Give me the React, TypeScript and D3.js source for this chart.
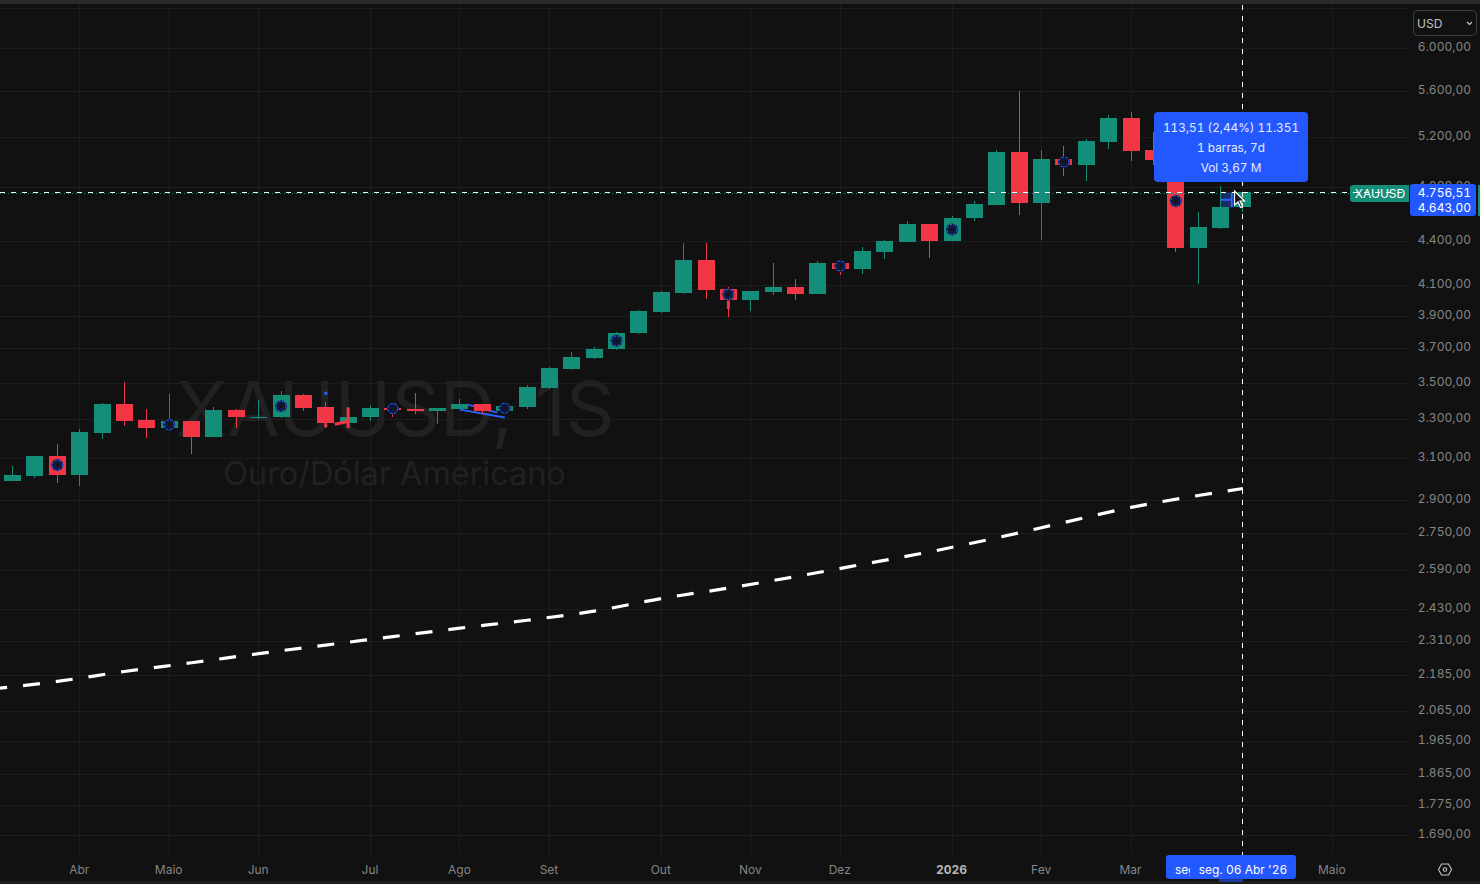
import * as d3 from 'd3';

const WIDTH = 1480;
const HEIGHT = 884;

// weekly candles, first one is 17 Mar 2025
const opens = [2986, 3014, 3113, 3019, 3230, 3384, 3294, 3253, 3289, 3209, 3352, 3310, 3310, 3433, 3368, 3279, 3310, 3363, 3358, 3342, 3358, 3384, 3347, 3368, 3472, 3580, 3644, 3697, 3793, 3923, 4045, 4266, 4071, 4000, 4052, 4084, 4039, 4245, 4204, 4321, 4391, 4520, 4398, 4564, 4660, 5076, 4675, 5019, 4970, 5158, 5361, 5092, 5059, 4349, 4491, 4643];
const closes = [3019, 3113, 3019, 3235, 3384, 3289, 3253, 3289, 3209, 3352, 3310, 3315, 3433, 3363, 3279, 3315, 3363, 3352, 3342, 3363, 3384, 3347, 3373, 3478, 3586, 3650, 3697, 3793, 3930, 4052, 4266, 4065, 4000, 4058, 4084, 4039, 4245, 4204, 4328, 4398, 4520, 4398, 4564, 4668, 5076, 4675, 5019, 4970, 5166, 5361, 5084, 5011, 4349, 4498, 4646, 4756.51];
const highs = [3063, 3113, 3173, 3250, 3390, 3506, 3358, 3439, 3289, 3368, 3358, 3406, 3456, 3439, 3395, 3368, 3379, 3363, 3444, 3363, 3411, 3384, 3384, 3489, 3592, 3679, 3709, 3799, 3936, 4058, 4384, 4384, 4084, 4058, 4245, 4137, 4259, 4245, 4356, 4405, 4542, 4520, 4579, 4690, 5092, 5599, 5092, 5125, 5183, 5390, 5412, 5242, 5070, 4608, 4805, 4760];
const lows = [2986, 3005, 2977, 2963, 3199, 3263, 3204, 3253, 3123, 3209, 3253, 3300, 3305, 3342, 3253, 3253, 3289, 3315, 3326, 3274, 3358, 3326, 3342, 3358, 3467, 3574, 3638, 3691, 3787, 3917, 4039, 4006, 3892, 3930, 4032, 4000, 4039, 4164, 4171, 4273, 4391, 4280, 4398, 4542, 4660, 4586, 4405, 4884, 4844, 5100, 5003, 4970, 4321, 4104, 4484, 4608];

// long moving average, read every third week
const maWeeks = [-1, 2, 5, 8, 11, 14, 17, 20, 23, 26, 29, 32, 35, 38, 41, 44, 47, 50, 53, 55];
const maValues = [2137, 2164, 2199, 2230, 2263, 2294.5, 2326, 2358, 2388, 2423.5, 2473, 2515, 2562, 2613, 2666, 2727, 2795, 2864, 2919, 2952];

const markerWeeks = [2, 7, 12, 17, 22, 27, 32, 37, 42, 47, 52];

// 6.400,00 sits under the USD box, only its grid line shows
const gridPrices = [6400, 6000, 5600, 5200, 4800, 4400, 4100, 3900, 3700, 3500, 3300, 3100, 2900, 2750, 2590, 2430, 2310, 2185, 2065, 1965, 1865, 1775, 1690];
const labelPrices = gridPrices.slice(1);
// April 2026 has no label of its own, the date box covers it
const monthLabels = ['Abr', 'Maio', 'Jun', 'Jul', 'Ago', 'Set', 'Out', 'Nov', 'Dez', '2026', 'Fev', 'Mar', '', 'Maio'];
const monthWeeks = [3, 7, 11, 16, 20, 24, 29, 33, 37, 42, 46, 50, 55, 59];

// hand drawn bits on the chart: week, price, week, price
const blueTrends = [
  [20, 3352, 22, 3310],
  [20.35, 3379, 21.67, 3336],
];
const redStrokes = [
  [14, 3279, 14, 3258],
  [14.4, 3274, 15, 3289],
  [15, 3363, 15, 3253],
  [32, 4000, 32, 3942],
];

const lastClose = 4756.51;
const measureFrom = 4643;
const measureWeeks = [54, 55];
const tooltipLines = ['113,51 (2,44%) 11.351', '1 barras, 7d', 'Vol 3,67 M'];

const BG = '#111111';
const GRID = '#1d1d1d';
const UP = '#148e78';
const DOWN = '#f23645';
const BLUE = '#2458ff';
const AXIS_TEXT = '#858585';
const FONT = 'Inter, sans-serif';

const x = d3.scaleLinear().domain([0, 55]).range([12.6, 1242.9]);
const y = d3.scaleLog().domain([1690, 6000]).range([835, 48]);

const ptBR = d3.formatLocale({ decimal: ',', thousands: '.', grouping: [3], currency: ['', ''] });
const fmtPrice = ptBR.format(',.2f');

const maLine = d3
  .line<number>()
  .x((_, i) => x(maWeeks[i]))
  .y((d) => y(d))
  .curve(d3.curveMonotoneX);

const crossX = Math.floor(x(55)) + 0.5;
const crossY = Math.round(y(lastClose)) + 0.5;

function Candle({ i }: { i: number }) {
  const up = closes[i] >= opens[i];
  const color = up ? UP : DOWN;
  const cx = x(i);
  const top = Math.round(y(Math.max(opens[i], closes[i])));
  const bottom = Math.round(y(Math.min(opens[i], closes[i])));
  return (
    <g shapeRendering="crispEdges" fill={color}>
      <rect x={Math.floor(cx)} y={y(highs[i])} width={1} height={y(lows[i]) - y(highs[i])} />
      <rect x={Math.round(cx - 8.5)} y={top} width={17} height={Math.max(bottom - top, 1)} />
    </g>
  );
}

function Marker({ i }: { i: number }) {
  const cy = (y(opens[i]) + y(closes[i])) / 2;
  const cx = x(i);
  return (
    <g>
      <circle cx={cx} cy={cy} r={6} fill="#0c1228" />
      <circle cx={cx} cy={cy} r={5} fill="none" stroke="#2353d8" strokeWidth={1.2} strokeDasharray="3 1" />
      <circle cx={cx} cy={cy} r={2.4} fill={BG} stroke="#16275c" strokeWidth={0.8} />
    </g>
  );
}

export default function App() {
  return (
    <svg
      width={WIDTH}
      height={HEIGHT}
      viewBox={`0 0 ${WIDTH} ${HEIGHT}`}
      style={{ position: 'fixed', top: 0, left: 0, fontFamily: FONT, fontVariantNumeric: 'tabular-nums' }}
    >
      <defs>
        <clipPath id="plot-clip">
          <rect x={0} y={5} width={1408} height={851} />
        </clipPath>
        <clipPath id="stub-clip">
          <rect x={1175} y={855} width={15} height={24} />
        </clipPath>
      </defs>

      <rect width={WIDTH} height={HEIGHT} fill={BG} />
      <rect width={WIDTH} height={4} fill="#2a2a2a" />
      <rect y={881} width={WIDTH} height={3} fill="#1c1c1c" />

      {/* grid */}
      <g stroke={GRID} strokeWidth={1} shapeRendering="crispEdges">
        {gridPrices.map((t) => (
          <line key={t} x1={0} x2={1408} y1={Math.round(y(t)) + 0.5} y2={Math.round(y(t)) + 0.5} />
        ))}
        {monthWeeks.map((w) => (
          <line key={w} x1={Math.floor(x(w)) + 0.5} x2={Math.floor(x(w)) + 0.5} y1={5} y2={855} />
        ))}
      </g>

      {/* watermark */}
      <g fontFamily={FONT} fill="#212121" textAnchor="middle" style={{ fontVariantNumeric: 'normal' }}>
        <text x={395} y={436} fontSize={76}>XAUUSD, 1S</text>
        <text x={394.5} y={485} fontSize={32.4}>Ouro/Dólar Americano</text>
      </g>

      <g clipPath="url(#plot-clip)">
        {/* moving average */}
        <path
          d={maLine(maValues) ?? ''}
          fill="none"
          stroke="#ffffff"
          strokeWidth={3.2}
          strokeDasharray="17 16"
        />

        {/* measure box under the last candle */}
        <rect
          x={x(measureWeeks[0])}
          y={y(lastClose)}
          width={x(measureWeeks[1]) - x(measureWeeks[0])}
          height={y(measureFrom) - y(lastClose)}
          fill="#1b2b60"
        />
        <line
          x1={x(measureWeeks[0])}
          x2={(x(measureWeeks[0]) + x(measureWeeks[1])) / 2}
          y1={(y(lastClose) + y(measureFrom)) / 2}
          y2={(y(lastClose) + y(measureFrom)) / 2}
          stroke="#2962ff"
          strokeWidth={2}
        />
        <line
          x1={(x(measureWeeks[0]) + x(measureWeeks[1])) / 2}
          x2={(x(measureWeeks[0]) + x(measureWeeks[1])) / 2}
          y1={y(lastClose)}
          y2={y(measureFrom)}
          stroke="#2962ff"
          strokeWidth={2}
        />

        {blueTrends.map(([a, pa, b, pb], i) => (
          <line key={i} x1={x(a)} y1={y(pa)} x2={x(b)} y2={y(pb)} stroke="#2962ff" strokeWidth={2} />
        ))}

        {opens.map((_, i) => (
          <Candle key={i} i={i} />
        ))}

        {redStrokes.map(([a, pa, b, pb], i) => (
          <line key={i} x1={x(a)} y1={y(pa)} x2={x(b)} y2={y(pb)} stroke={DOWN} strokeWidth={3} />
        ))}
        <rect x={x(14) - 1.5} y={y(3450)} width={3} height={y(3433) - y(3450)} fill="#2962ff" />

        {markerWeeks.map((w) => (
          <Marker key={w} i={w} />
        ))}

        {/* last price line */}
        <line x1={0} x2={1350} y1={crossY + 1} y2={crossY + 1} stroke={UP} strokeDasharray="1 3" />
      </g>

      {/* price axis */}
      <g fontSize={12} fill={AXIS_TEXT} textAnchor="end">
        {labelPrices.map((t) => (
          <text key={t} x={1471} y={y(t) - 1.5} dominantBaseline="central">{fmtPrice(t)}</text>
        ))}
      </g>

      {/* time axis */}
      <g fontSize={12} fill={AXIS_TEXT} textAnchor="middle">
        {monthLabels.map((m, i) =>
          m ? (
            <text
              key={m + i}
              x={x(monthWeeks[i]) - 0.5}
              y={869}
              dominantBaseline="central"
              fontWeight={m === '2026' ? 700 : 400}
              fill={m === '2026' ? '#b8b8b8' : AXIS_TEXT}
            >
              {m}
            </text>
          ) : null,
        )}
      </g>

      {/* USD selector */}
      <rect x={1413.5} y={10.5} width={63} height={25} rx={4} fill={BG} stroke="#3e3e3e" />
      <text x={1417} y={23} fontSize={12} fill="#c4c4c4" dominantBaseline="central">USD</text>
      <path d="M1467 22 L1469.5 24.5 L1472 22" fill="none" stroke="#c4c4c4" strokeWidth={1.2} />

      {/* last price labels */}
      <path d="M1353 185 H1409 V202 H1353 a3 3 0 0 1 -3 -3 V188 a3 3 0 0 1 3 -3 Z" fill={UP} />
      <text x={1380} y={193.5} fontSize={12} fill="#ffffff" textAnchor="middle" dominantBaseline="central">XAUUSD</text>
      <rect x={1410} y={184} width={66} height={32} rx={3} fill={BLUE} />
      <text x={1471} y={192} fontSize={12} fill="#ffffff" textAnchor="end" dominantBaseline="central">{fmtPrice(lastClose)}</text>
      <text x={1471} y={207} fontSize={12} fill="#ffffff" textAnchor="end" dominantBaseline="central">{fmtPrice(measureFrom)}</text>
      <rect x={1478} y={185} width={2} height={31} fill={UP} />

      {/* crosshair */}
      <g stroke="#ffffff" strokeWidth={1} strokeDasharray="5 6" shapeRendering="crispEdges">
        <line x1={0} x2={1408} y1={crossY} y2={crossY} />
        <line x1={crossX} x2={crossX} y1={5} y2={855} />
      </g>

      {/* measure tooltip */}
      <rect x={1154} y={112} width={154} height={70} rx={4} fill={BLUE} />
      <g fontSize={11.8} fill="#e4eaff" textAnchor="middle">
        {tooltipLines.map((t, i) => (
          <text key={t} x={1231} y={127.5 + i * 20} dominantBaseline="central">{t}</text>
        ))}
      </g>

      {/* cursor */}
      <path
        d="M1234.5 191 V205 L1238 202 L1240.5 207.5 L1242.5 206.5 L1240 201 H1244.5 Z"
        fill="#161616"
        stroke="#ffffff"
        strokeWidth={1.2}
      />

      {/* date label */}
      <rect x={1219} y={879} width={24} height={3} fill="#1c3a96" />
      <rect x={1166} y={855} width={130} height={24} rx={3} fill={BLUE} />
      <text x={1175} y={869} fontSize={12} fill="#ffffff" dominantBaseline="central" clipPath="url(#stub-clip)">seg.</text>
      <text x={1243} y={869} fontSize={12} fill="#ffffff" textAnchor="middle" dominantBaseline="central">seg. 06 Abr '26</text>

      {/* settings */}
      <path d="M1438.5 869.5 L1441.5 864 H1448.5 L1451.5 869.5 L1448.5 875 H1441.5 Z" fill="none" stroke="#c8c8c8" strokeWidth={1.1} />
      <circle cx={1445} cy={869.5} r={1.8} fill="none" stroke="#c8c8c8" strokeWidth={1.1} />
    </svg>
  );
}
